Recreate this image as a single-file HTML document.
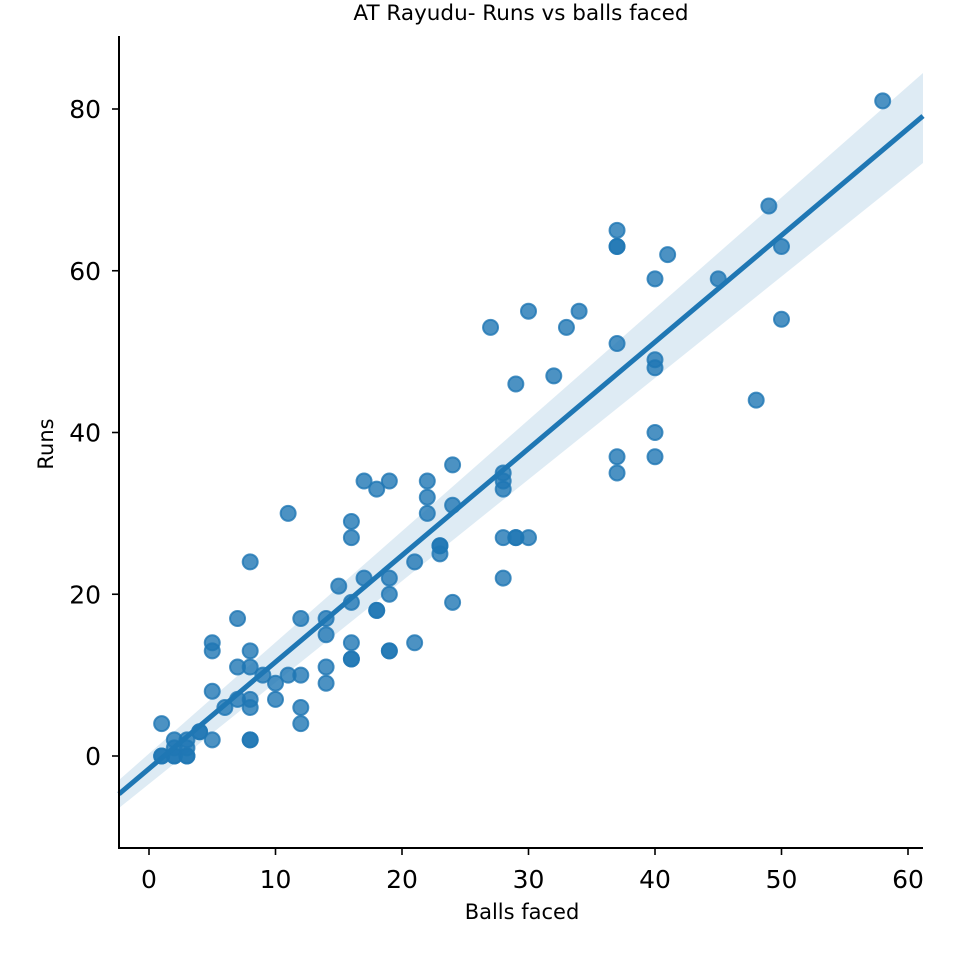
<!DOCTYPE html>
<html><head><meta charset="utf-8"><style>body{margin:0;background:#fff}svg{display:block;font-family:"DejaVu Sans","Liberation Sans",sans-serif}</style></head>
<body>
<svg id="s" width="960" height="960" viewBox="0 0 960 960">
<rect width="960" height="960" fill="#fff"/>
<polygon points="119,780 923,73 923,163 119,808" fill="#1f77b4" fill-opacity="0.15"/>
<g id="pts"></g>
<line x1="119" y1="794" x2="923" y2="116" stroke="#1f77b4" stroke-width="5"/>
<g stroke="#000" stroke-width="2" fill="none">
<line x1="119" y1="36" x2="119" y2="849"/>
<line x1="118" y1="848" x2="923" y2="848"/>
</g>
<g id="ticks" stroke="#000" stroke-width="1.6"></g>
<g id="labels" font-size="25" fill="#000"></g>
<text x="521" y="20" font-size="21.5" text-anchor="middle">AT Rayudu- Runs vs balls faced</text>
<text x="522" y="919" font-size="21" text-anchor="middle">Balls faced</text>
<text transform="translate(53,444) rotate(-90)" font-size="21" text-anchor="middle">Runs</text>
</svg>
<script>
const X=v=>149+12.65*v, Y=v=>756-8.0875*v;
const d=[[1,4],[1,0],[2,2],[2,1],[2,0],[3,2],[3,1],[3,0],[4,3],[5,14],[5,13],[5,8],[5,2],[6,6],[7,17],[7,11],[7,7],[8,24],[8,13],[8,11],[8,7],[8,6],[8,2],[9,10],[10,9],[10,7],[11,30],[11,10],[12,17],[12,10],[12,6],[12,4],[14,17],[14,15],[14,11],[14,9],[15,21],[16,29],[16,27],[16,19],[16,14],[16,12],[17,34],[17,22],[18,33],[18,18],[19,34],[19,22],[19,20],[19,13],[21,24],[21,14],[22,34],[22,32],[22,30],[23,26],[23,25],[24,36],[24,31],[24,19],[27,53],[28,35],[28,34],[28,33],[28,27],[28,22],[29,46],[29,27],[30,55],[30,27],[32,47],[33,53],[34,55],[37,65],[37,63],[37,51],[37,37],[37,35],[40,59],[40,49],[40,48],[40,40],[40,37],[41,62],[45,59],[48,44],[49,68],[50,63],[50,54],[58,81],[2,0],[3,0],[8,2],[18,18],[19,13],[16,12],[29,27],[23,26],[37,63],[1,0],[4,3]];
let h='';for(const[a,b]of d)h+=`<circle cx="${X(a)}" cy="${Y(b)}" r="7.5" fill="#1f77b4" fill-opacity="0.8" stroke="#1f77b4" stroke-opacity="0.8" stroke-width="2"/>`;
document.getElementById('pts').innerHTML=h;
let t='',l='';
for(let v=0;v<=60;v+=10){t+=`<line x1="${X(v)}" y1="848" x2="${X(v)}" y2="855"/>`;l+=`<text x="${X(v)}" y="888" text-anchor="middle">${v}</text>`;}
for(let v=0;v<=80;v+=20){t+=`<line x1="112" y1="${Y(v)}" x2="119" y2="${Y(v)}"/>`;l+=`<text x="101" y="${Y(v)+9}" text-anchor="end">${v}</text>`;}
document.getElementById('ticks').innerHTML=t;document.getElementById('labels').innerHTML=l;
</script>
</body></html>
